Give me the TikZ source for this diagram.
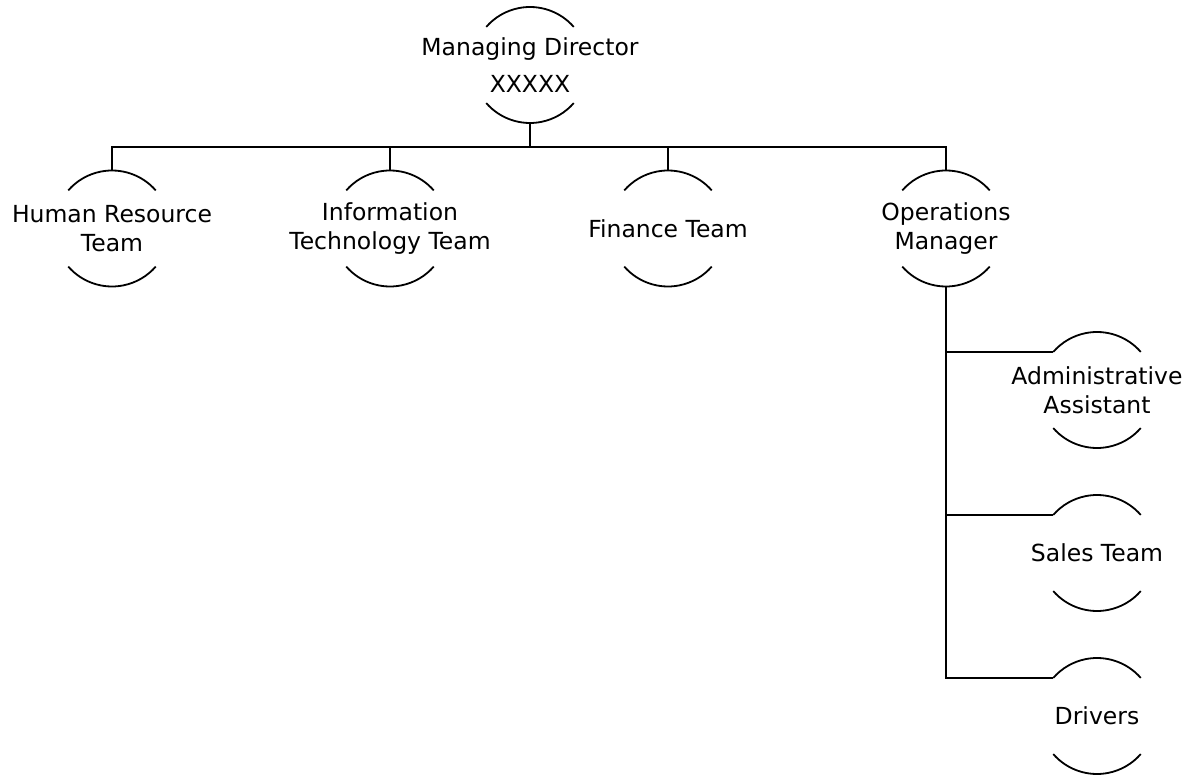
\documentclass[tikz,border=0pt]{standalone}
\usepackage{fontspec}
\setmainfont{DejaVu Sans}
\usepackage{tikz}
\usetikzlibrary{positioning}

\tikzset{
  unit/.style={circle, minimum size=116pt, inner sep=0pt, outer sep=0pt},
  unittext/.style={font=\fontsize{23.5}{29}\selectfont, align=center, inner sep=0pt},
  link/.style={line width=2.3pt},
  rim/.style={line width=1.8pt}
}

\begin{document}
\begin{tikzpicture}[x=1pt,y=1pt]
   \useasboundingbox (0,0) rectangle (1184,-775);

   \node[unit, label={[unittext]center:Managing Director\\[8pt]XXXXX}] (md) at (530,-65) {};
   \node[unit, label={[unittext]center:Human Resource\\Team}] (hr) at (112,-228.5) {};
   \node[unit, right=162pt of hr, label={[unittext]center:Information\\Technology Team}] (it) {};
   \node[unit, right=162pt of it, label={[unittext]center:Finance Team}] (fin) {};
   \node[unit, right=162pt of fin, label={[unittext]center:Operations\\Manager}] (ops) {};

   \node[unit, label={[unittext]center:Administrative\\Assistant}] (adm) at (1097,-390) {};
   \node[unit, below=47pt of adm, label={[unittext]center:Sales Team}] (sal) {};
   \node[unit, below=47pt of sal, label={[unittext]center:Drivers}] (drv) {};

   \coordinate (bus) at (530,-147);
   \draw[link] (md.south) -- (bus);
   \draw[link] (hr.north) |- (bus) -| (ops.north);
   \foreach \n in {it,fin} \draw[link] (\n.north) -- (\n.north |- bus);

   \draw[link] (ops.south) |- (drv.139);
   \foreach \n in {adm,sal} \draw[link] (ops.south |- \n.139) -- (\n.139);

   \foreach \n in {md,hr,it,fin,ops,adm,sal,drv} {
      \draw[rim] (\n.41) arc (41:139:58pt);
      \draw[rim] (\n.221) arc (221:319:58pt);
   }
\end{tikzpicture}
\end{document}
